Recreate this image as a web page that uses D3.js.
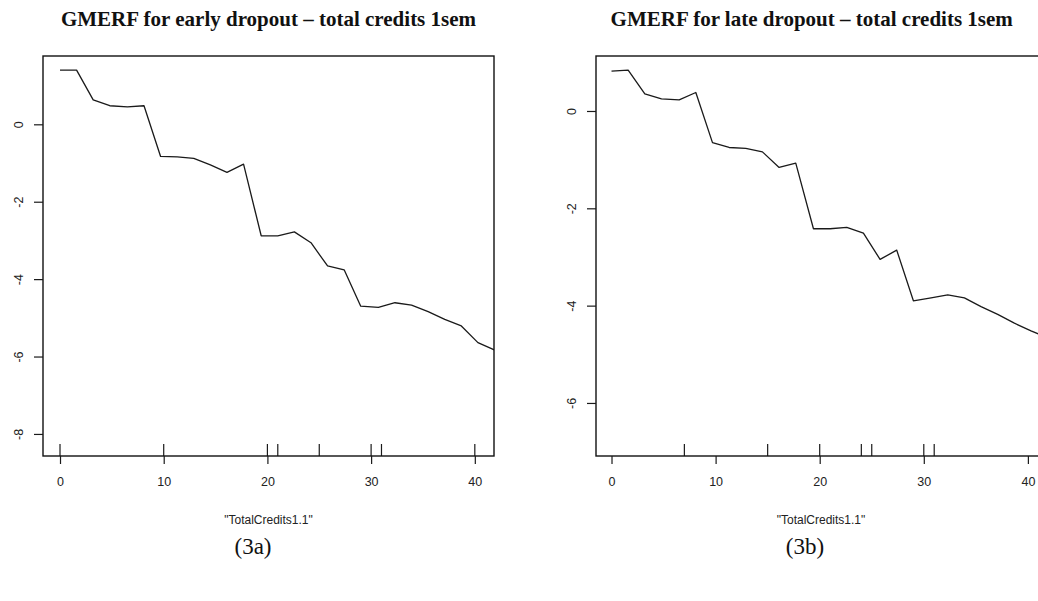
<!DOCTYPE html>
<html>
<head>
<meta charset="utf-8">
<script src="https://cdn.jsdelivr.net/npm/d3@7/dist/d3.min.js"></script>
<style>
  html, body { margin: 0; padding: 0; background: #fff; }
  svg { display: block; }
  .tick text { font-family: "Liberation Sans", Arial, sans-serif; font-size: 12.5px; fill: #222; }
</style>
</head>
<body>
<svg id="chart" width="1038" height="601"></svg>
<script>
// Partial dependence grid for total credits in the first semester
const creditGrid = [0, 1.6, 3.2, 4.8, 6.5, 8.1, 9.7, 11.3, 12.9, 14.5, 16.1, 17.7, 19.4, 21.0,
                    22.6, 24.2, 25.8, 27.4, 29.0, 30.7, 32.3, 33.9, 35.5, 37.1, 38.7, 40.3, 41.9];

// Estimated effect for early dropout
const earlyEffect = [1.40, 1.40, 0.63, 0.48, 0.45, 0.48, -0.83, -0.84, -0.88, -1.05, -1.24, -1.03,
                     -2.88, -2.88, -2.78, -3.06, -3.66, -3.76, -4.70, -4.73, -4.61, -4.67, -4.84,
                     -5.04, -5.21, -5.64, -5.83];

// Estimated effect for late dropout
const lateEffect = [0.82, 0.84, 0.35, 0.25, 0.23, 0.38, -0.65, -0.75, -0.77, -0.84, -1.16, -1.07,
                    -2.42, -2.42, -2.39, -2.51, -3.05, -2.86, -3.90, -3.84, -3.78, -3.84, -4.02,
                    -4.18, -4.36, -4.52, -4.66];

// Observed credit values shown as rug marks
const earlyRug = [0, 10, 20, 21, 25, 30, 31, 40];
const lateRug = [7, 15, 20, 24, 25, 30, 31];

// Axis ticks
const xTicks = [0, 10, 20, 30, 40];
const earlyYTicks = [0, -2, -4, -6, -8];
const lateYTicks = [0, -2, -4, -6];

const titles = ["GMERF for early dropout \u2013 total credits 1sem",
                "GMERF for late dropout \u2013 total credits 1sem"];
const captions = ["(3a)", "(3b)"];
const xLabel = "\"TotalCredits1.1\"";

const panels = [
  { left: 43, right: 494, top: 56, bottom: 456, xDom: [-1.64, 41.85], yDom: [-8.57, 1.765],
    values: earlyEffect, rug: earlyRug, yTicks: earlyYTicks, title: titles[0], titleX: 268.5,
    caption: captions[0], captionX: 253 },
  { left: 596, right: 1046, top: 56, bottom: 456, xDom: [-1.49, 41.74], yDom: [-7.09, 1.13],
    values: lateEffect, rug: lateRug, yTicks: lateYTicks, title: titles[1], titleX: 811.7,
    caption: captions[1], captionX: 805 }
];

const svg = d3.select("#chart");
svg.append("rect").attr("width", 1038).attr("height", 601).attr("fill", "#fff");

panels.forEach((p, i) => {
  const x = d3.scaleLinear().domain(p.xDom).range([p.left, p.right]);
  const y = d3.scaleLinear().domain(p.yDom).range([p.bottom, p.top]);
  const g = svg.append("g");

  // clip region for the plotted curve
  const clipId = "clip" + i;
  svg.append("clipPath").attr("id", clipId)
    .append("rect").attr("x", p.left).attr("y", p.top)
    .attr("width", p.right - p.left).attr("height", p.bottom - p.top);

  // curve
  const pts = creditGrid.map((c, k) => [c, p.values[k]]);
  g.append("path")
    .datum(pts)
    .attr("clip-path", `url(#${clipId})`)
    .attr("fill", "none")
    .attr("stroke", "#1a1a1a")
    .attr("stroke-width", 1.3)
    .attr("stroke-linejoin", "round")
    .attr("d", d3.line().x(d => x(d[0])).y(d => y(d[1])));

  // rug marks
  g.selectAll("line.rug").data(p.rug).join("line")
    .attr("class", "rug")
    .attr("x1", d => x(d)).attr("x2", d => x(d))
    .attr("y1", p.bottom).attr("y2", p.bottom - 12)
    .attr("stroke", "#1a1a1a").attr("stroke-width", 1.2);

  // plot box
  g.append("rect")
    .attr("x", p.left).attr("y", p.top)
    .attr("width", p.right - p.left).attr("height", p.bottom - p.top)
    .attr("fill", "none").attr("stroke", "#111").attr("stroke-width", 1.4);

  // x axis
  const xa = g.append("g")
    .attr("transform", `translate(0,${p.bottom})`)
    .call(d3.axisBottom(x).tickValues(xTicks).tickFormat(d => String(d)).tickSize(8).tickSizeOuter(0));
  xa.select(".domain").remove();
  xa.selectAll(".tick line").attr("stroke", "#1a1a1a").attr("stroke-width", 1.2);
  xa.selectAll(".tick text").attr("y", 26).attr("dy", null)
    .attr("dominant-baseline", "central");

  // y axis with labels parallel to the axis
  const ya = g.append("g")
    .attr("transform", `translate(${p.left},0)`)
    .call(d3.axisLeft(y).tickValues(p.yTicks).tickFormat(d => String(d)).tickSize(9).tickSizeOuter(0));
  ya.select(".domain").remove();
  ya.selectAll(".tick line").attr("stroke", "#1a1a1a").attr("stroke-width", 1.2);
  ya.selectAll(".tick text")
    .attr("x", 0).attr("y", -24).attr("dy", null)
    .attr("transform", "rotate(-90)")
    .attr("text-anchor", "middle")
    .attr("dominant-baseline", "central");

  // title
  svg.append("text")
    .attr("x", p.titleX).attr("y", 26)
    .attr("text-anchor", "middle")
    .attr("font-family", "'Liberation Serif', 'Times New Roman', serif")
    .attr("font-weight", "bold")
    .attr("font-size", 21)
    .attr("fill", "#111")
    .text(p.title);

  // x axis label
  svg.append("text")
    .attr("x", (p.left + p.right) / 2).attr("y", 520)
    .attr("text-anchor", "middle")
    .attr("dominant-baseline", "central")
    .attr("font-family", "'Liberation Sans', Arial, sans-serif")
    .attr("font-size", 12)
    .attr("fill", "#222")
    .text(xLabel);

  // panel caption
  svg.append("text")
    .attr("x", p.captionX).attr("y", 546)
    .attr("text-anchor", "middle")
    .attr("dominant-baseline", "central")
    .attr("font-family", "'Liberation Serif', 'Times New Roman', serif")
    .attr("font-size", 23)
    .attr("fill", "#111")
    .text(p.caption);
});
</script>
</body>
</html>
